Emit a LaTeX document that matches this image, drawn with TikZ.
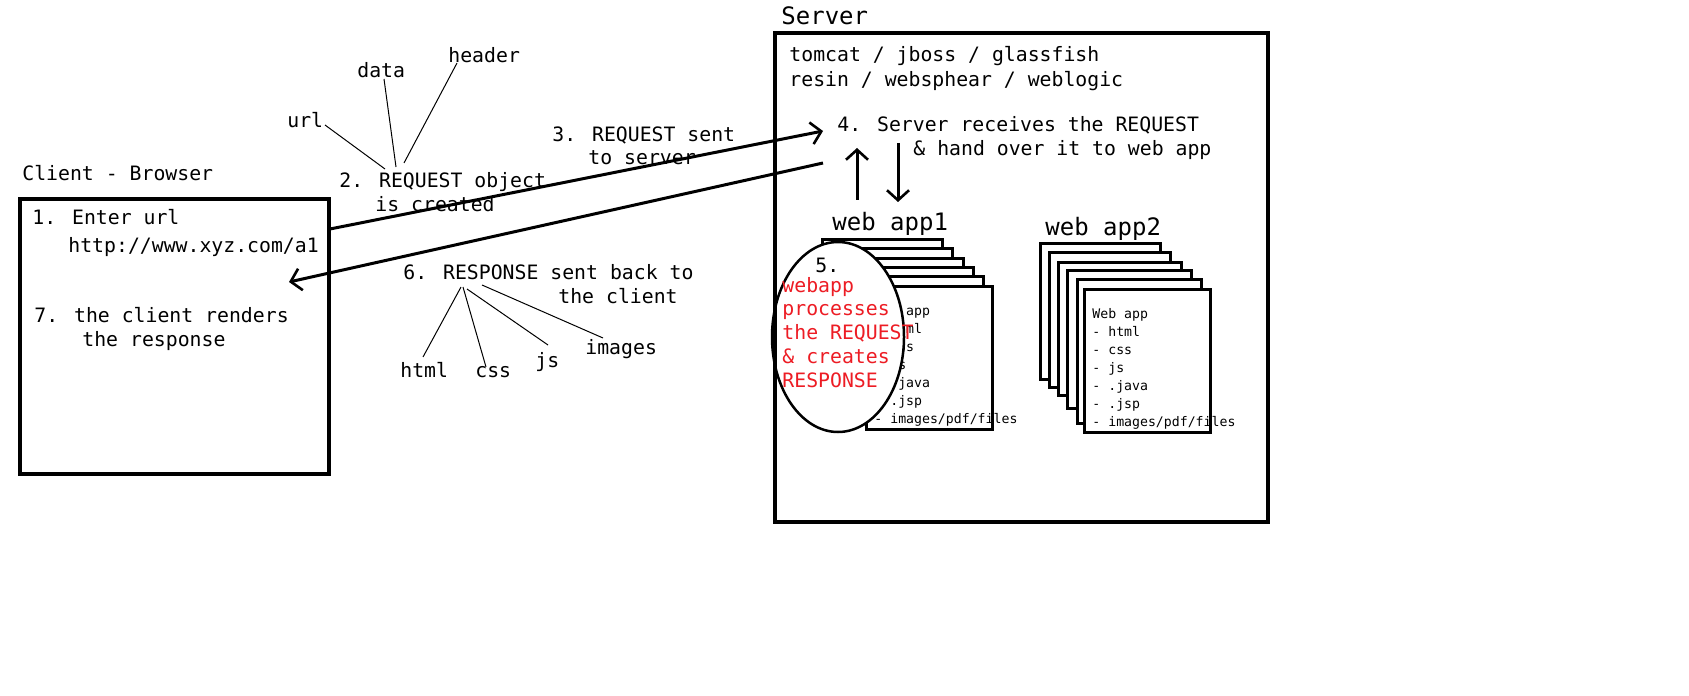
\documentclass[tikz,border=0pt]{standalone}
\usepackage{fontspec}
\setmainfont{DejaVu Sans Mono}
\usetikzlibrary{arrows.meta}
\definecolor{paintred}{RGB}{237,28,36}
\tikzset{
  txt/.style = {anchor=base west, inner sep=0pt, font=\fontsize{9.9}{12}\selectfont},
  bigtxt/.style = {txt, font=\fontsize{12}{14}\selectfont},
  smalltxt/.style = {txt, font=\fontsize{6.6}{8}\selectfont},
  redtxt/.style = {txt, text=paintred},
  frame/.style = {draw, line width=2.2pt},
  appbox/.style = {draw, fill=white, line width=1.5pt},
  flow/.style = {line width=1.5pt, -{Straight Barb[length=5pt,width=11pt,line width=1.3pt]}},
  leader/.style = {line width=0.5pt}
}

\begin{document}
\begin{tikzpicture}[x=0.5pt, y=-0.5pt]
    \useasboundingbox (0,0) rectangle (1689,695);

    % client side
    \draw[frame] (20,199) rectangle (329,474);
    \node[txt] (clienttitle) at (22,181) {Client - Browser};
    \node[txt] (enter) at (32,225) {1. Enter url};
    \node[txt] (link) at (68,252) {http://www.xyz.com/a1};
    \node[txt] (render) at (34,322) {7. the client renders};
    \node[txt] (render2) at (82,346) {the response};

    % request object
    \node[txt] (url) at (287,128) {url};
    \node[txt] (data) at (357,78) {data};
    \node[txt] (header) at (448,63) {header};
    \node[txt] (reqobj) at (339,188) {2. REQUEST object};
    \node[txt] (reqobj2) at (375,212) {is created};
    \node[txt] (sent) at (552,142) {3. REQUEST sent};
    \node[txt] (sent2) at (588,165) {to server};
    \coordinate (urlend) at (325,125);
    \coordinate (dataend) at (384,79);
    \coordinate (headerend) at (457,63);
    \coordinate (objurl) at (385,169);
    \coordinate (objdata) at (396,167);
    \coordinate (objheader) at (404,163);
    \draw[leader] (urlend) -- (objurl);
    \draw[leader] (dataend) -- (objdata);
    \draw[leader] (headerend) -- (objheader);

    % response
    \node[txt] (resp) at (403,279) {6. RESPONSE sent back to};
    \node[txt] (resp2) at (558,303) {the client};
    \node[txt] (html) at (400,377) {html};
    \node[txt] (css) at (475,377) {css};
    \node[txt] (js) at (535,367) {js};
    \node[txt] (images) at (585,354) {images};
    \coordinate (rhtml) at (461,287);
    \coordinate (rcss) at (463,287);
    \coordinate (rjs) at (467,289);
    \coordinate (rimages) at (482,285);
    \coordinate (htmlend) at (423,357);
    \coordinate (cssend) at (486,367);
    \coordinate (jsend) at (548,345);
    \coordinate (imagesend) at (603,338);
    \draw[leader] (rhtml) -- (htmlend);
    \draw[leader] (rcss) -- (cssend);
    \draw[leader] (rjs) -- (jsend);
    \draw[leader] (rimages) -- (imagesend);

    % web app stacks
    \foreach \l/\t/\r/\b in {822/239/942/376, 831/248/952/384, 840/258/963/392,
                             849/267/973/405, 859/276/983/420, 866/286/992/429}
        \draw[appbox] (\l,\t) rectangle (\r,\b);
    \foreach \l/\t/\r/\b in {1040/243/1160/379, 1049/252/1170/387, 1058/262/1181/395,
                             1067/270/1191/408, 1077/279/1201/423, 1084/289/1210/432}
        \draw[appbox] (\l,\t) rectangle (\r,\b);
    \foreach \t [count=\i] in {Web app, - html, - css, - js, - .java, - .jsp, - images/pdf/files}{
        \node[smalltxt] (appa\i) at (874,{315+18*(\i-1)}) {\t};
        \node[smalltxt] (appb\i) at (1092,{318+18*(\i-1)}) {\t};
    }
    \node[bigtxt] (app1) at (832,230) {web app1};
    \node[bigtxt] (app2) at (1045,235) {web app2};

    % step 5
    \draw[fill=white, line width=1.25pt] (838,337) ellipse [x radius=33pt, y radius=47.5pt];
    \node[txt] (five) at (815,272) {5.};
    \node[redtxt] (proc1) at (782,292) {webapp};
    \node[redtxt] (proc2) at (782,315) {processes};
    \node[redtxt] (proc3) at (782,339) {the REQUEST};
    \node[redtxt] (proc4) at (782,363) {\& creates};
    \node[redtxt] (proc5) at (782,387) {RESPONSE};

    % server side
    \draw[frame] (775,33) rectangle (1268,522);
    \node[bigtxt] (server) at (781,25) {Server};
    \node[txt] (cont1) at (789,62) {tomcat / jboss / glassfish};
    \node[txt] (cont2) at (789,87) {resin / websphear / weblogic};
    \node[txt] (recv) at (837,132) {4. Server receives the REQUEST};
    \node[txt] (recv2) at (913,156) {\& hand over it to web app};

    % flows
    \coordinate (reqa) at (330,229);
    \coordinate (reqb) at (823,131);
    \coordinate (resa) at (823,163);
    \coordinate (resb) at (289,282);
    \coordinate (upa) at (857,200);
    \coordinate (upb) at (857,148);
    \coordinate (downa) at (898,143);
    \coordinate (downb) at (898,202);
    \draw[flow] (reqa) -- (reqb);
    \draw[flow] (resa) -- (resb);
    \draw[flow] (upa) -- (upb);
    \draw[flow] (downa) -- (downb);
\end{tikzpicture}
\end{document}
